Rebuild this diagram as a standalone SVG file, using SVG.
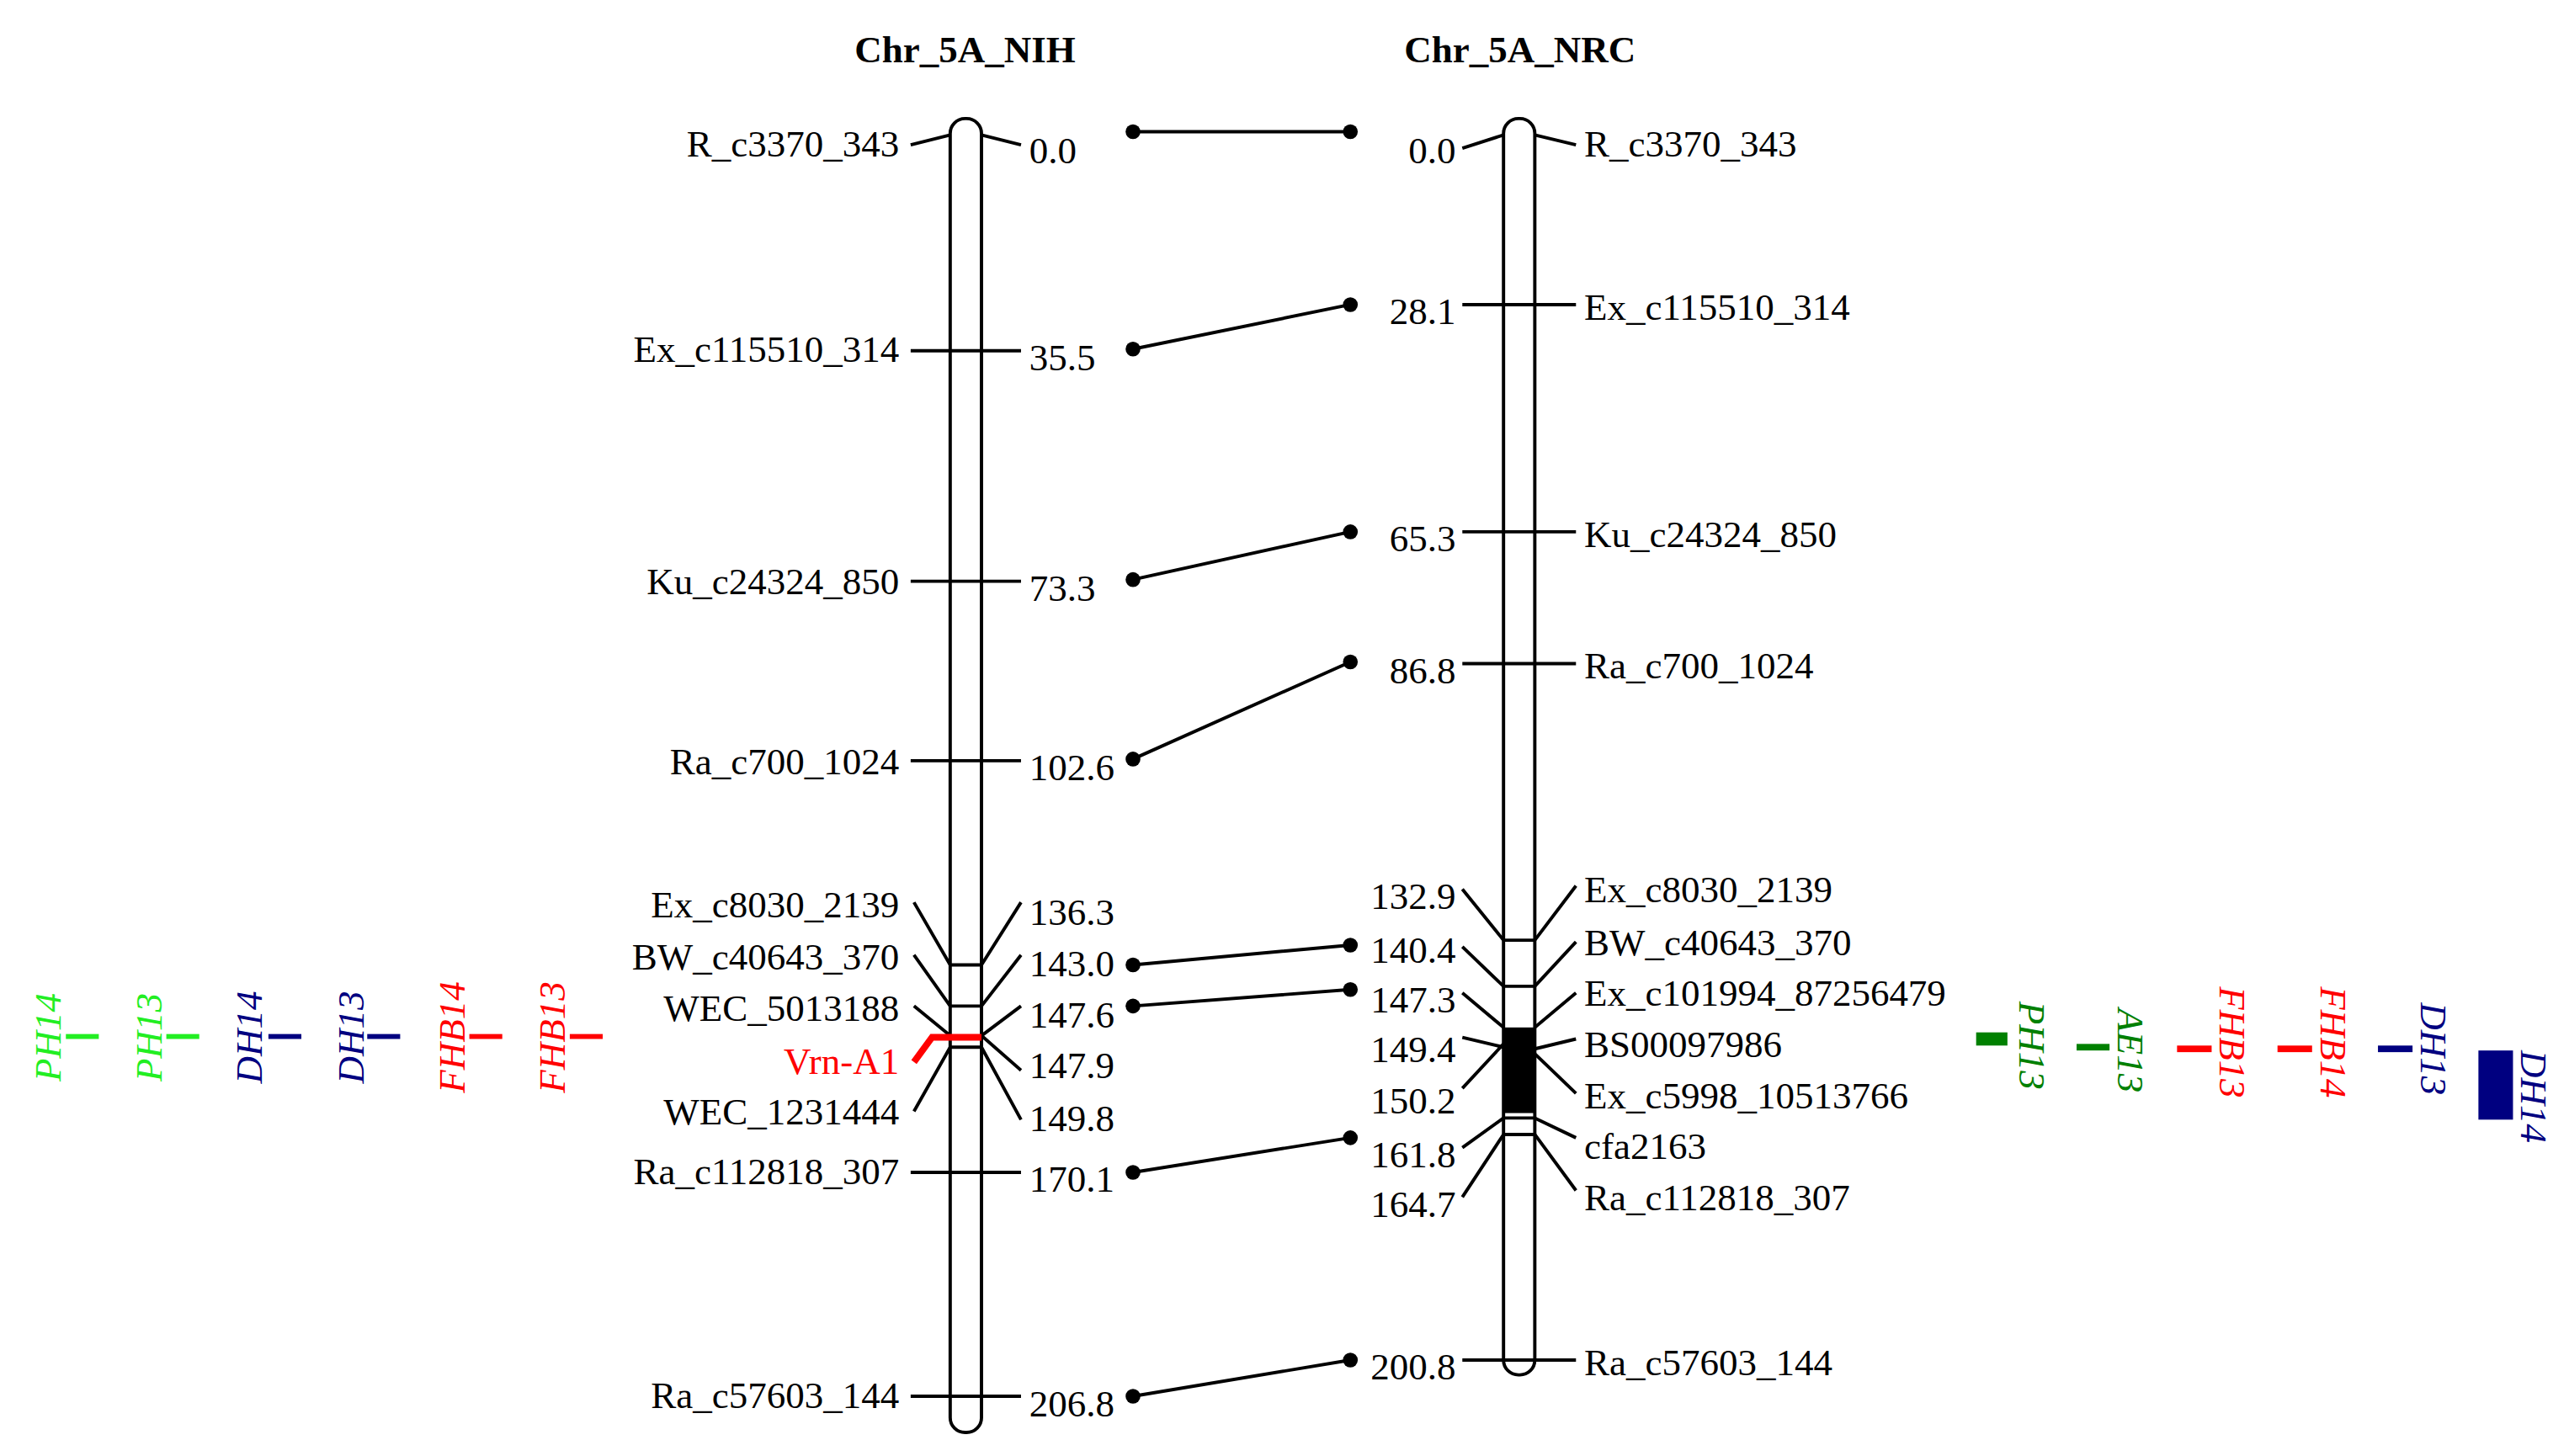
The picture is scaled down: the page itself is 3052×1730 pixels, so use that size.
<svg xmlns="http://www.w3.org/2000/svg" width="3052" height="1730" viewBox="0 0 3052 1730">
<style>
text{font-family:"Liberation Serif","DejaVu Serif",serif;font-size:23px;fill:#000}
.t{font-weight:bold}
.l{text-anchor:end}
.i{font-style:italic;text-anchor:middle}
.k{stroke:#000;stroke-width:2;fill:none}
.c{fill:#fff;stroke:#000;stroke-width:2}
</style>
<rect width="3052" height="1730" fill="#fff"/>
<g transform="scale(1.9564)">
<g id="titles"><text class="t" x="586" y="38" text-anchor="middle">Chr_5A_NIH</text><text class="t" x="923" y="38" text-anchor="middle">Chr_5A_NRC</text></g>
<g id="chrNIH">
<rect class="c" x="577" y="72" width="19" height="798" rx="9"/>
<path class="k" d="M553 88L577 82M596 82L620 88M553 213H620M553 353H620M553 462H620M553 712H620M553 848H620M577 586H596M577 611H596M577 636H596M555 548L577 586M555 580L577 611M555 611L577 629M555 675L577 636M620 548L596 586M620 580L596 611M620 611L596 629M620 650L596 629M620 680L596 636"/>
<path d="M555 645L566 630H596" stroke="#f00" stroke-width="4" fill="none"/>
<text class="l" x="546" y="95">R_c3370_343</text><text x="625" y="99">0.0</text>
<text class="l" x="546" y="220">Ex_c115510_314</text><text x="625" y="225">35.5</text>
<text class="l" x="546" y="361">Ku_c24324_850</text><text x="625" y="365">73.3</text>
<text class="l" x="546" y="470">Ra_c700_1024</text><text x="625" y="474">102.6</text>
<text class="l" x="546" y="557">Ex_c8030_2139</text><text x="625" y="562">136.3</text>
<text class="l" x="546" y="589">BW_c40643_370</text><text x="625" y="593">143.0</text>
<text class="l" x="546" y="620">WEC_5013188</text><text x="625" y="624">147.6</text>
<text class="l" x="546" y="652" style="fill:#f00">Vrn-A1</text><text x="625" y="655">147.9</text>
<text class="l" x="546" y="683">WEC_1231444</text><text x="625" y="687">149.8</text>
<text class="l" x="546" y="719">Ra_c112818_307</text><text x="625" y="724">170.1</text>
<text class="l" x="546" y="855">Ra_c57603_144</text><text x="625" y="860">206.8</text>
</g>
<g id="chrNRC">
<rect class="c" x="913" y="72" width="19" height="763" rx="9"/>
<rect x="913" y="624" width="19" height="52" fill="#000"/>
<path class="k" d="M888 90L913 82M932 82L957 88M888 185H957M888 323H957M888 403H957M888 826H957M913 571H932M913 599H932M913 679H932M913 689H932M888 540L913 571M888 575L913 599M888 603L913 624M888 630L913 636M888 661L913 634M888 697L913 679M888 727L913 689M957 538L932 571M957 572L932 599M957 603L932 624M957 631L932 637M957 664L932 640M957 691L932 679M957 723L932 689"/>
<text class="l" x="884" y="99">0.0</text><text x="962" y="95">R_c3370_343</text>
<text class="l" x="884" y="197">28.1</text><text x="962" y="194">Ex_c115510_314</text>
<text class="l" x="884" y="335">65.3</text><text x="962" y="332">Ku_c24324_850</text>
<text class="l" x="884" y="415">86.8</text><text x="962" y="412">Ra_c700_1024</text>
<text class="l" x="884" y="552">132.9</text><text x="962" y="548">Ex_c8030_2139</text>
<text class="l" x="884" y="585">140.4</text><text x="962" y="580">BW_c40643_370</text>
<text class="l" x="884" y="615">147.3</text><text x="962" y="611">Ex_c101994_87256479</text>
<text class="l" x="884" y="645">149.4</text><text x="962" y="642">BS00097986</text>
<text class="l" x="884" y="676">150.2</text><text x="962" y="673">Ex_c5998_10513766</text>
<text class="l" x="884" y="709">161.8</text><text x="962" y="704">cfa2163</text>
<text class="l" x="884" y="739">164.7</text><text x="962" y="735">Ra_c112818_307</text>
<text class="l" x="884" y="838">200.8</text><text x="962" y="835">Ra_c57603_144</text>
</g>
<g id="connectors" stroke="#000" stroke-width="2" fill="#000">
<path d="M688 80L820 80M688 212L820 185M688 352L820 323M688 461L820 402M688 586L820 574M688 611L820 601M688 712L820 691M688 848L820 826"/>
<g stroke="none"><circle cx="688" cy="80" r="4.5"/><circle cx="820" cy="80" r="4.5"/><circle cx="688" cy="212" r="4.5"/><circle cx="820" cy="185" r="4.5"/><circle cx="688" cy="352" r="4.5"/><circle cx="820" cy="323" r="4.5"/><circle cx="688" cy="461" r="4.5"/><circle cx="820" cy="402" r="4.5"/><circle cx="688" cy="586" r="4.5"/><circle cx="820" cy="574" r="4.5"/><circle cx="688" cy="611" r="4.5"/><circle cx="820" cy="601" r="4.5"/><circle cx="688" cy="712" r="4.5"/><circle cx="820" cy="691" r="4.5"/><circle cx="688" cy="848" r="4.5"/><circle cx="820" cy="826" r="4.5"/></g>
</g>
<g id="qtlLeft">
<rect x="40" y="628" width="20" height="3" fill="#22ee22"/><text class="i" transform="translate(37 630) rotate(-90)" style="fill:#22ee22">PH14</text>
<rect x="101" y="628" width="20" height="3" fill="#22ee22"/><text class="i" transform="translate(98 630) rotate(-90)" style="fill:#22ee22">PH13</text>
<rect x="163" y="628" width="20" height="3" fill="#000080"/><text class="i" transform="translate(159 630) rotate(-90)" style="fill:#000080">DH14</text>
<rect x="223" y="628" width="20" height="3" fill="#000080"/><text class="i" transform="translate(221 630) rotate(-90)" style="fill:#000080">DH13</text>
<rect x="285" y="628" width="20" height="3" fill="#f00"/><text class="i" transform="translate(282 630) rotate(-90)" style="fill:#f00">FHB14</text>
<rect x="346" y="628" width="20" height="3" fill="#f00"/><text class="i" transform="translate(343 630) rotate(-90)" style="fill:#f00">FHB13</text>
</g>
<g id="qtlRight">
<rect x="1200" y="627" width="19" height="8" fill="#008000"/><text class="i" transform="translate(1226 635) rotate(90)" style="fill:#008000">PH13</text>
<rect x="1261" y="634" width="20" height="4" fill="#008000"/><text class="i" transform="translate(1286 638) rotate(90)" style="fill:#008000">AE13</text>
<rect x="1322" y="635" width="21" height="4" fill="#f00"/><text class="i" transform="translate(1348 633) rotate(90)" style="fill:#f00">FHB13</text>
<rect x="1383" y="635" width="21" height="4" fill="#f00"/><text class="i" transform="translate(1409 633) rotate(90)" style="fill:#f00">FHB14</text>
<rect x="1444" y="635" width="21" height="4" fill="#000080"/><text class="i" transform="translate(1470 637) rotate(90)" style="fill:#000080">DH13</text>
<rect x="1505" y="638" width="21" height="42" fill="#000080"/><text class="i" transform="translate(1531 666) rotate(90)" style="fill:#000080">DH14</text>
</g>
</g>
</svg>
